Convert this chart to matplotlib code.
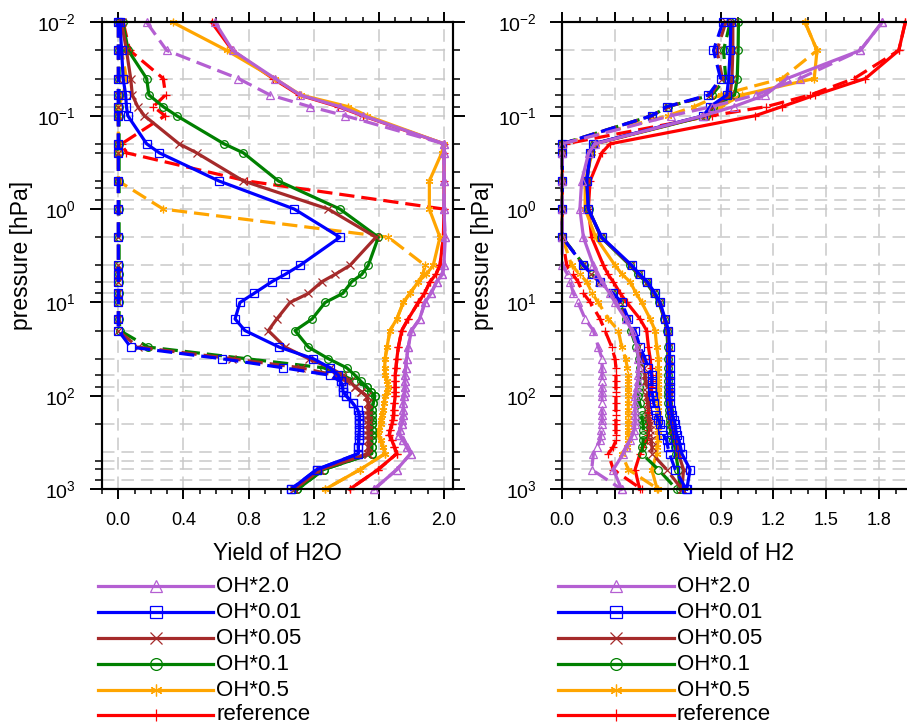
import matplotlib
matplotlib.use("Agg")
import matplotlib.pyplot as plt
from matplotlib.lines import Line2D
from matplotlib.ticker import FixedLocator, NullFormatter, MultipleLocator, FormatStrFormatter

plt.rcParams['font.family'] = ['Liberation Sans', 'DejaVu Sans']
plt.rcParams['mathtext.fontset'] = 'custom'
plt.rcParams['mathtext.rm'] = 'Liberation Sans'
plt.rcParams['mathtext.it'] = 'Liberation Sans:italic'
plt.rcParams['mathtext.bf'] = 'Liberation Sans:bold'
plt.rcParams['lines.scale_dashes'] = False

# ---------------- data ----------------
pressure = [0.01, 0.02, 0.04, 0.06, 0.08, 0.1, 0.2, 0.25, 0.5, 1, 2, 4, 5, 6, 8, 10,
            15, 20, 30, 40, 50, 60, 70, 80, 90, 100, 120, 140, 160, 180, 200,
            230, 260, 300, 350, 415, 615, 1000]

labels = ["OH*2.0", "OH*0.01", "OH*0.05", "OH*0.1", "OH*0.5", "reference"]
colors = ["#b45fd2", "#0000ff", "#a52a2a", "#008000", "#ffa500", "#ff0000"]
markers = ["^", "s", "x", "o", (6, 2, 0), "+"]

# Yield of H2O, solid curves
h2o_oh20 = [0.594, 0.702, 0.962, 1.116, 1.361, 1.505, 2.0, 2.0, 2.0, 2.0, 2.006,
            2.0, 1.99, 1.955, 1.92, 1.883, 1.85, 1.80, 1.78, 1.77, 1.765,
            1.76, 1.76, 1.76, 1.76, 1.755, 1.75, 1.75, 1.75, 1.745, 1.74,
            1.73, 1.726, 1.75, 1.77, 1.795, 1.71, 1.57]
h2o_oh001 = [0.01, 0.02, 0.03, 0.045, 0.05, 0.058, 0.174, 0.252, 0.618, 1.081, 1.361,
             1.116, 1.024, 0.942, 0.833, 0.747, 0.717, 0.778, 0.987, 1.198, 1.30,
             1.351, 1.365, 1.377, 1.38, 1.40, 1.44, 1.47, 1.48, 1.48, 1.48,
             1.48, 1.478, 1.476, 1.474, 1.474, 1.218, 1.06]
h2o_oh005 = [0.02, 0.05, 0.076, 0.086, 0.119, 0.16, 0.373, 0.481, 0.768, 1.29, 1.582,
             1.423, 1.331, 1.249, 1.167, 1.054, 0.973, 0.921, 1.024, 1.17, 1.30,
             1.38, 1.42, 1.453, 1.49, 1.525, 1.535, 1.535, 1.535, 1.535, 1.535,
             1.535, 1.535, 1.535, 1.535, 1.535, 1.24, 1.08]
h2o_oh01 = [0.027, 0.061, 0.174, 0.188, 0.276, 0.358, 0.649, 0.768, 0.983, 1.361, 1.597,
            1.535, 1.495, 1.433, 1.378, 1.27, 1.19, 1.085, 1.167, 1.29, 1.402,
            1.453, 1.49, 1.525, 1.55, 1.575, 1.565, 1.556, 1.556, 1.556, 1.556,
            1.556, 1.556, 1.556, 1.556, 1.556, 1.26, 1.10]
h2o_oh05 = [0.334, 0.666, 0.96, 1.12, 1.412, 1.525, 2.0, 1.986, 1.91, 1.91, 1.975,
            1.934, 1.89, 1.842, 1.79, 1.75, 1.71, 1.668, 1.65, 1.638, 1.635,
            1.64, 1.65, 1.658, 1.65, 1.64, 1.63, 1.627, 1.62, 1.615, 1.61,
            1.60, 1.597, 1.61, 1.625, 1.638, 1.484, 1.27]
h2o_ref = [0.573, 0.70, 0.95, 1.11, 1.35, 1.50, 2.0, 2.0, 2.0, 2.0, 1.996,
           1.975, 1.95, 1.914, 1.88, 1.842, 1.78, 1.74, 1.72, 1.71, 1.705,
           1.70, 1.70, 1.70, 1.70, 1.70, 1.695, 1.69, 1.69, 1.685, 1.68,
           1.67, 1.664, 1.68, 1.695, 1.71, 1.595, 1.42]

# Yield of H2O, dashed curves
h2o_oh20_d = [0.174, 0.297, 0.737, 0.932, 1.177, 1.392, 2.0, 2.0, 2.0, 2.0, 2.006,
              2.0, 1.99, 1.955, 1.92, 1.883, 1.85, 1.80, 1.78, 1.77, 1.765,
              1.76, 1.76, 1.76, 1.76, 1.755, 1.75, 1.75, 1.75, 1.745, 1.74,
              1.73, 1.726, 1.75, 1.77, 1.795, 1.71, 1.57]
h2o_oh001_d = [0.0, 0.0, 0.0, 0.0, 0.0, 0.0, 0.0, 0.0, 0.0, 0.0, 0.0,
               0.0, 0.0, 0.0, 0.0, 0.0, 0.0, 0.0, 0.076, 0.635, 1.013,
               1.30, 1.365, 1.377, 1.38, 1.40, 1.44, 1.47, 1.48, 1.48, 1.48,
               1.48, 1.478, 1.476, 1.474, 1.474, 1.218, 1.06]
h2o_oh005_d = [0.0, 0.0, 0.0, 0.0, 0.0, 0.0, 0.0, 0.0, 0.0, 0.0, 0.0,
               0.0, 0.0, 0.0, 0.0, 0.0, 0.0, 0.0, 0.12, 0.70, 1.12,
               1.33, 1.40, 1.453, 1.49, 1.525, 1.535, 1.535, 1.535, 1.535, 1.535,
               1.535, 1.535, 1.535, 1.535, 1.535, 1.24, 1.08]
h2o_oh01_d = [0.005, 0.005, 0.005, 0.005, 0.005, 0.005, 0.005, 0.005, 0.005, 0.005, 0.005,
              0.005, 0.005, 0.005, 0.005, 0.005, 0.005, 0.01, 0.184, 0.788, 1.26,
              1.372, 1.46, 1.525, 1.55, 1.575, 1.565, 1.556, 1.556, 1.556, 1.556,
              1.556, 1.556, 1.556, 1.556, 1.556, 1.26, 1.10]
h2o_oh05_d = [0.01, 0.02, 0.05, 0.03, 0.0, 0.0, 0.0, 0.0, 0.0, 0.276, 1.658,
              1.883, 1.87, 1.842, 1.79, 1.75, 1.71, 1.668, 1.65, 1.638, 1.635,
              1.64, 1.65, 1.658, 1.65, 1.64, 1.63, 1.627, 1.62, 1.615, 1.61,
              1.60, 1.597, 1.61, 1.625, 1.638, 1.484, 1.27]
h2o_ref_d = [0.03, 0.07, 0.276, 0.29, 0.215, 0.287, 0.02, 0.05, 0.79, 2.0, 1.996,
             1.975, 1.95, 1.914, 1.88, 1.842, 1.78, 1.74, 1.72, 1.71, 1.705,
             1.70, 1.70, 1.70, 1.70, 1.70, 1.695, 1.69, 1.69, 1.685, 1.68,
             1.67, 1.664, 1.68, 1.695, 1.71, 1.595, 1.42]

# Yield of H2, solid curves
h2_oh20 = [1.819, 1.695, 1.278, 1.154, 0.974, 0.803, 0.186, 0.15, 0.11, 0.10, 0.12,
           0.177, 0.20, 0.224, 0.27, 0.30, 0.36, 0.395, 0.424, 0.433, 0.435,
           0.433, 0.43, 0.425, 0.42, 0.414, 0.414, 0.414, 0.414, 0.414, 0.414,
           0.41, 0.40, 0.385, 0.365, 0.347, 0.29, 0.338]
h2_oh001 = [0.959, 0.955, 0.946, 0.936, 0.841, 0.803, 0.177, 0.158, 0.139, 0.148, 0.224,
            0.395, 0.44, 0.484, 0.528, 0.556, 0.585, 0.604, 0.61, 0.61, 0.61,
            0.61, 0.61, 0.61, 0.61, 0.61, 0.615, 0.62, 0.625, 0.635, 0.642,
            0.645, 0.65, 0.665, 0.672, 0.68, 0.727, 0.708]
h2_oh005 = [0.97, 0.97, 0.965, 0.955, 0.85, 0.81, 0.18, 0.16, 0.14, 0.148, 0.222,
            0.39, 0.435, 0.48, 0.524, 0.553, 0.582, 0.60, 0.605, 0.605, 0.605,
            0.605, 0.605, 0.605, 0.605, 0.605, 0.61, 0.612, 0.615, 0.62, 0.625,
            0.63, 0.635, 0.645, 0.652, 0.66, 0.69, 0.68]
h2_oh01 = [1.002, 1.0, 0.995, 0.98, 0.86, 0.82, 0.18, 0.16, 0.14, 0.15, 0.22,
           0.385, 0.43, 0.475, 0.52, 0.55, 0.58, 0.595, 0.60, 0.60, 0.60,
           0.60, 0.60, 0.60, 0.60, 0.60, 0.60, 0.605, 0.605, 0.61, 0.61,
           0.615, 0.62, 0.63, 0.64, 0.645, 0.66, 0.67]
h2_oh05 = [1.381, 1.449, 1.433, 1.02, 0.90, 0.82, 0.19, 0.17, 0.13, 0.13, 0.19,
           0.30, 0.34, 0.386, 0.42, 0.452, 0.50, 0.528, 0.537, 0.547, 0.547,
           0.547, 0.547, 0.547, 0.547, 0.547, 0.547, 0.547, 0.547, 0.547, 0.547,
           0.547, 0.547, 0.545, 0.54, 0.537, 0.509, 0.54]
h2_ref = [1.951, 1.914, 1.724, 1.439, 1.249, 1.097, 0.272, 0.224, 0.158, 0.148, 0.167,
          0.234, 0.26, 0.29, 0.33, 0.367, 0.442, 0.48, 0.49, 0.50, 0.505,
          0.51, 0.51, 0.51, 0.50, 0.49, 0.49, 0.49, 0.49, 0.49, 0.49,
          0.49, 0.49, 0.48, 0.46, 0.442, 0.414, 0.44]

# Yield of H2, dashed curves
h2_oh20_d = [1.819, 1.695, 1.35, 1.10, 0.85, 0.62, 0.0, 0.0, 0.0, 0.0, 0.0,
             0.0, 0.03, 0.045, 0.063, 0.09, 0.13, 0.177, 0.205, 0.226, 0.226,
             0.226, 0.226, 0.226, 0.226, 0.226, 0.226, 0.226, 0.226, 0.226, 0.226,
             0.222, 0.22, 0.215, 0.20, 0.177, 0.167, 0.338]
h2_oh001_d = [0.913, 0.86, 0.90, 0.831, 0.594, 0.509, 0.0, 0.0, 0.0, 0.0, 0.0,
              0.12, 0.17, 0.215, 0.29, 0.338, 0.376, 0.414, 0.442, 0.471, 0.49,
              0.509, 0.509, 0.509, 0.509, 0.515, 0.52, 0.528, 0.535, 0.547, 0.555,
              0.566, 0.575, 0.594, 0.60, 0.61, 0.642, 0.705]
h2_oh005_d = [0.93, 0.88, 0.91, 0.84, 0.60, 0.51, 0.0, 0.0, 0.0, 0.0, 0.0,
              0.12, 0.165, 0.21, 0.285, 0.33, 0.37, 0.40, 0.43, 0.455, 0.465,
              0.471, 0.475, 0.48, 0.48, 0.48, 0.485, 0.49, 0.49, 0.495, 0.50,
              0.50, 0.50, 0.505, 0.51, 0.51, 0.594, 0.68]
h2_oh01_d = [0.955, 0.917, 0.93, 0.85, 0.60, 0.51, 0.0, 0.0, 0.0, 0.0, 0.0,
             0.125, 0.17, 0.215, 0.285, 0.325, 0.365, 0.39, 0.42, 0.435, 0.44,
             0.442, 0.44, 0.438, 0.435, 0.433, 0.44, 0.45, 0.452, 0.455, 0.46,
             0.461, 0.461, 0.46, 0.455, 0.452, 0.547, 0.65]
h2_oh05_d = [1.381, 1.449, 1.25, 0.90, 0.75, 0.60, 0.0, 0.0, 0.0, 0.0, 0.0,
             0.053, 0.10, 0.139, 0.17, 0.205, 0.262, 0.319, 0.338, 0.36, 0.37,
             0.375, 0.375, 0.375, 0.375, 0.375, 0.375, 0.375, 0.375, 0.375, 0.375,
             0.375, 0.375, 0.375, 0.37, 0.338, 0.376, 0.547]
h2_ref_d = [1.951, 1.914, 1.66, 1.41, 1.16, 0.85, 0.02, 0.0, 0.0, 0.0, 0.0,
            0.025, 0.06, 0.09, 0.12, 0.16, 0.215, 0.243, 0.281, 0.30, 0.305,
            0.305, 0.305, 0.305, 0.305, 0.305, 0.305, 0.305, 0.305, 0.305, 0.305,
            0.305, 0.305, 0.305, 0.29, 0.262, 0.29, 0.452]

h2o_solid = [h2o_oh20, h2o_oh001, h2o_oh005, h2o_oh01, h2o_oh05, h2o_ref]
h2o_dashed = [h2o_oh20_d, h2o_oh001_d, h2o_oh005_d, h2o_oh01_d, h2o_oh05_d, h2o_ref_d]
h2_solid = [h2_oh20, h2_oh001, h2_oh005, h2_oh01, h2_oh05, h2_ref]
h2_dashed = [h2_oh20_d, h2_oh001_d, h2_oh005_d, h2_oh01_d, h2_oh05_d, h2_ref_d]

# ---------------- figure ----------------
W, H = 907, 728
fig = plt.figure(figsize=(W / 100, H / 100), dpi=100)

def fx(px):
    return px / W

def fy(py):
    return 1 - py / H

ax_h = 467 / H
axL = fig.add_axes([fx(101.7), fy(489.3), 351.6 / W, ax_h])
axR = fig.add_axes([fx(562.3), fy(489.3), 351.6 / W, ax_h])

left_ticks = [0.02, 0.04, 0.06, 0.08, 0.2, 0.25, 0.5, 0.6, 0.8, 2, 4, 6, 8,
              20, 40, 60, 80, 200, 500, 600, 800]
std_minor = [m * 10.0 ** e for e in range(-2, 3) for m in (2, 4, 6, 8)]
grid_levels = sorted(set(std_minor + [0.25, 500]))
decades = [0.01, 0.1, 1, 10, 100, 1000]

GRID_C = "#c9c9c9"

def setup(ax, xlim, major, xlabel):
    ax.set_yscale("log")
    ax.set_ylim(1000, 0.01)
    ax.set_xlim(*xlim)
    ax.xaxis.set_major_locator(MultipleLocator(major))
    ax.xaxis.set_minor_locator(MultipleLocator(0.1))
    ax.xaxis.set_major_formatter(FormatStrFormatter("%.1f"))
    ax.yaxis.set_major_locator(FixedLocator(decades))
    ax.yaxis.set_minor_locator(FixedLocator(left_ticks))
    ax.yaxis.set_minor_formatter(NullFormatter())
    for s in ax.spines.values():
        s.set_linewidth(1.5)
    ax.tick_params(axis="x", which="major", direction="out", length=7.5, width=1.4,
                   top=True, labelsize=13, pad=9)
    ax.tick_params(axis="x", which="minor", direction="out", length=3.6, width=1.1, top=True)
    ax.tick_params(axis="y", which="major", direction="out", length=8.5, width=1.4,
                   right=False, labelsize=14, pad=10)
    ax.tick_params(axis="y", which="minor", direction="out", length=4.8, width=1.1, right=False)
    ax.set_xlabel(xlabel, fontsize=16.5, labelpad=9)
    ax.set_ylabel("pressure [hPa]", fontsize=16.5, labelpad=3)
    for lv in grid_levels + decades[1:-1]:
        ax.axhline(lv, color=GRID_C, lw=1.1, dashes=(9, 5), zorder=0.5)
    x = 0.0
    while x <= xlim[1] + 1e-9:
        if x > xlim[0] + 1e-6:
            ax.axvline(x, color=GRID_C, lw=1.1, dashes=(9, 5), zorder=0.5)
        x += major
    tw = ax.twinx()
    tw.set_yscale("log")
    tw.set_ylim(1000, 0.01)
    tw.yaxis.set_major_locator(FixedLocator(decades))
    tw.yaxis.set_minor_locator(FixedLocator(std_minor))
    tw.yaxis.set_major_formatter(NullFormatter())
    tw.yaxis.set_minor_formatter(NullFormatter())
    tw.tick_params(axis="y", which="major", direction="out", length=8.5, width=1.4)
    tw.tick_params(axis="y", which="minor", direction="out", length=4.8, width=1.1)
    for s in tw.spines.values():
        s.set_linewidth(1.5)

def draw(ax, solid, dashed):
    for i in reversed(range(len(labels))):
        z = 3 + (len(labels) - i)
        kw = dict(color=colors[i], lw=2.3, marker=markers[i], markersize=5.5,
                  markerfacecolor="none", markeredgecolor=colors[i],
                  markeredgewidth=0.9, clip_on=False, zorder=z)
        ax.plot(dashed[i], pressure, dashes=(11, 5), **kw)
        ax.plot(solid[i], pressure, **kw)

setup(axL, (-0.102, 2.057), 0.4, "Yield of H2O")
setup(axR, (0.0, 2.0), 0.3, "Yield of H2")
draw(axL, h2o_solid, h2o_dashed)
draw(axR, h2_solid, h2_dashed)

# ---------------- legends ----------------
rows = [586, 612, 638, 664, 690, 715]

def legend(x0, x1, xt):
    xm = (x0 + x1) / 2
    for i, lab in enumerate(labels):
        y = rows[i]
        ln = Line2D([fx(x0), fx(xm), fx(x1)], [fy(y)] * 3, transform=fig.transFigure,
                    color=colors[i], lw=2.3, marker=markers[i], markevery=[1],
                    markersize=8.5, markerfacecolor="none", markeredgecolor=colors[i],
                    markeredgewidth=0.9)
        fig.add_artist(ln)
        fig.text(fx(xt), fy(y), lab, fontsize=16, va="center", ha="left")

legend(98, 213, 216)
legend(558, 674, 677)

fig.savefig("out.png", dpi=100)
